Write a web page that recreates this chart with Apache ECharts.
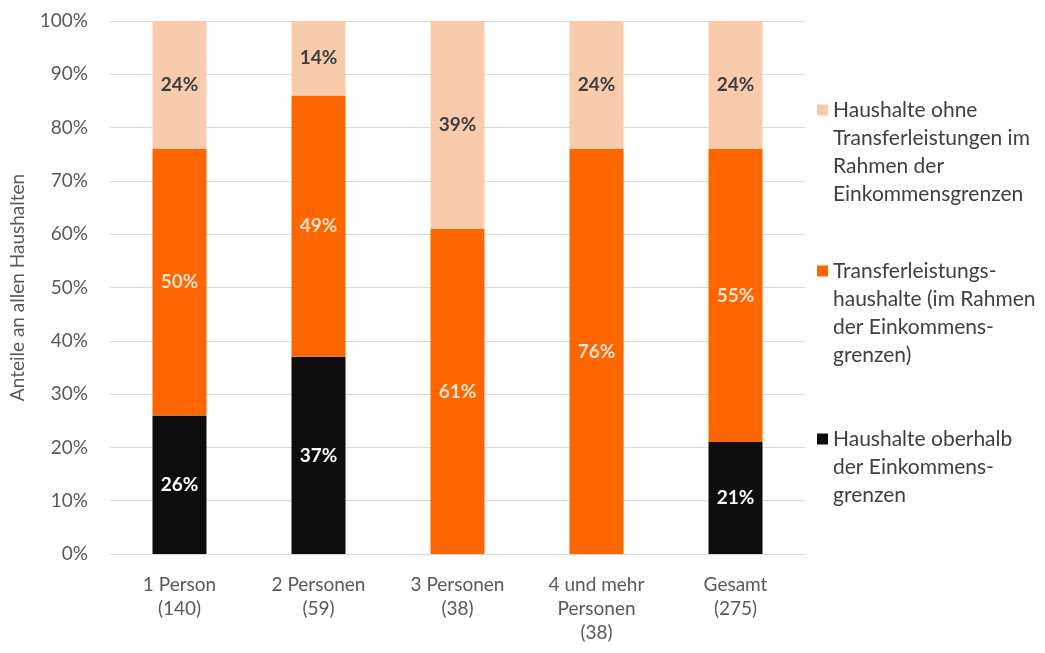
<!DOCTYPE html>
<html><head><meta charset="utf-8">
<script src="https://cdn.jsdelivr.net/npm/echarts@6/dist/echarts.min.js"></script>
<style>html,body{margin:0;padding:0;background:#fff}#c{width:1045px;height:653px}</style>
</head><body><div id="c"></div>
<script>
const categories = ['1 Person\n(140)', '2 Personen\n(59)', '3 Personen\n(38)', '4 und mehr\nPersonen\n(38)', 'Gesamt\n(275)'];
const oberhalb = [26, 37, 0, 0, 21];
const transfer = [50, 49, 61, 76, 55];
const ohne = [24, 14, 39, 24, 24];
const seriesNames = ['Haushalte oberhalb der Einkommensgrenzen', 'Transferleistungshaushalte (im Rahmen der Einkommensgrenzen)', 'Haushalte ohne Transferleistungen im Rahmen der Einkommensgrenzen'];
const legendText = {
  [seriesNames[0]]: 'Haushalte oberhalb\nder Einkommens-\ngrenzen',
  [seriesNames[1]]: 'Transferleistungs-\nhaushalte (im Rahmen\nder Einkommens-\ngrenzen)',
  [seriesNames[2]]: 'Haushalte ohne\nTransferleistungen im\nRahmen der\nEinkommensgrenzen'
};
const FONT = 'Lato';
const LH = 28;
const chart = echarts.init(document.getElementById('c'));
function lbl(color) {
  return {show: true, position: 'inside', color: color, fontWeight: 'bold', fontSize: 19, fontFamily: FONT,
    formatter: p => p.value ? p.value + '%' : ''};
}
function legend(name, top, lines) {
  const H = (lines - 1) * LH + 11;
  return {data: [name], left: 812, top: top, orient: 'vertical', itemWidth: 11, itemHeight: H, itemGap: 0,
    selectedMode: false, icon: 'path://M0 0H11V11H0Z M0 ' + (H - 0.01) + 'L0.01 ' + H + 'L0 ' + H + 'Z',
    formatter: n => legendText[n],
    textStyle: {fontFamily: FONT, fontSize: 21, color: '#404040', lineHeight: LH}};
}
chart.setOption({
  animation: false,
  textStyle: {fontFamily: FONT},
  grid: {left: 110, right: 240, top: 21, bottom: 99, containLabel: false, outerBoundsMode: 'none'},
  legend: [legend(seriesNames[2], 91, 4), legend(seriesNames[1], 252, 4), legend(seriesNames[0], 420, 3)],
  xAxis: {type: 'category', data: categories,
    axisLine: {lineStyle: {color: '#D9D9D9'}}, axisTick: {show: false},
    axisLabel: {color: '#595959', fontSize: 19, fontFamily: FONT, lineHeight: 24, margin: 19}},
  yAxis: {type: 'value', min: 0, max: 100, interval: 10,
    name: 'Anteile an allen Haushalten', nameLocation: 'middle', nameRotate: 90, nameGap: 83,
    nameTextStyle: {color: '#595959', fontSize: 19, fontFamily: FONT},
    axisLabel: {formatter: '{value}%', color: '#595959', fontSize: 19, fontFamily: FONT, margin: 22},
    splitLine: {lineStyle: {color: '#D9D9D9'}}, axisLine: {show: false}},
  series: [
    {name: seriesNames[0], type: 'bar', stack: 's', data: oberhalb, barWidth: 54, itemStyle: {color: '#0D0D0D'}, label: lbl('#FFFFFF')},
    {name: seriesNames[1], type: 'bar', stack: 's', data: transfer, barWidth: 54, itemStyle: {color: '#FF6600'}, label: lbl('#FCE2CC')},
    {name: seriesNames[2], type: 'bar', stack: 's', data: ohne, barWidth: 54, itemStyle: {color: '#F8CBAD'}, label: lbl('#404040')}
  ]
});
</script></body></html>
